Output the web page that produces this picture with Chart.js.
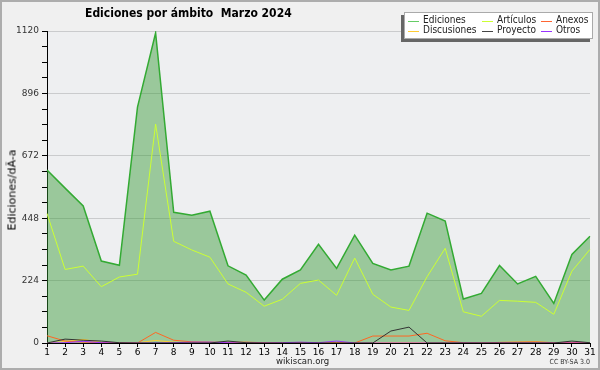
<!DOCTYPE html>
<html>
<head>
<meta charset="utf-8">
<script src="https://cdn.jsdelivr.net/npm/chart.js@4"></script>
<style>
  body { margin: 0; background: #f0f0f0; font-family: "DejaVu Sans Condensed", "DejaVu Sans", sans-serif; }
  #wrap { position: relative; width: 600px; height: 370px; background: #f0f0f0; }
  #frame { position: absolute; left: 0; top: 0; width: 600px; height: 370px; box-sizing: border-box; border: 2px solid #adadad; pointer-events: none; }
  #title { position: absolute; left: 85px; top: 6px; font-size: 12px; font-weight: bold; white-space: pre; color: #000; }
  #ytitle { position: absolute; left: 12px; top: 190px; font-size: 11px; font-weight: normal; white-space: pre; transform: translate(-50%, -50%) rotate(-90deg); color: #000; font-family: "DejaVu Sans"; }
  #legend { position: absolute; left: 404px; top: 12px; width: 187px; height: 25px; background: #fff; border: 1px solid #aaa; box-shadow: -3px 3px 0 #666; font-size: 10px; color: #222; }
  .txt { position: absolute; white-space: pre; line-height: 10px; }
  .sw { position: absolute; width: 11px; height: 1px; }
  #site { position: absolute; left: 276px; top: 355px; font-size: 9.5px; color: #222; }
  #cc { position: absolute; right: 10px; top: 358px; font-size: 7px; color: #333; }
</style>
</head>
<body>
<div id="wrap">
  <canvas id="chart" width="600" height="370"></canvas>
  <div id="title">Ediciones por ámbito  Marzo 2024</div>
  <div id="ytitle">Ediciones/dÃ-a</div>
  <div id="legend"></div>
  <div id="site">wikiscan.org</div>
  <div id="cc">CC BY-SA 3.0</div>
  <div id="frame"></div>
</div>
<script>
// ===== DATOS =====
const dias = ["1", "2", "3", "4", "5", "6", "7", "8", "9", "10", "11", "12", "13", "14", "15", "16",
  "17", "18", "19", "20", "21", "22", "23", "24", "25", "26", "27", "28", "29", "30", "31"];

const ediciones = [621, 556, 492, 294, 279, 847, 1113, 469, 459, 473, 277, 244, 154, 229, 262, 354,
  268, 387, 286, 262, 276, 466, 438, 158, 178, 278, 212, 239, 142, 318, 383];
const articulos = [465, 264, 276, 202, 237, 247, 786, 365, 334, 308, 212, 182, 132, 157, 214, 226,
  171, 305, 175, 129, 117, 238, 340, 112, 96, 153, 150, 146, 103, 258, 336];
const anexos = [26, 7, 3, 2, 1, 0, 38, 10, 4, 3, 2, 3, 1, 1, 1, 0,
  1, 0, 25, 25, 25, 35, 8, 1, 0, 2, 3, 4, 1, 2, 1];
const discusiones = [1, 5, 13, 2, 1, 1, 9, 3, 1, 1, 2, 1, 0, 1, 2, 1,
  1, 0, 1, 2, 2, 1, 1, 0, 1, 2, 3, 4, 1, 1, 1];
const proyecto = [0, 14, 10, 7, 1, 0, 0, 0, 0, 0, 7, 1, 0, 0, 0, 0,
  0, 0, 0, 43, 57, 0, 0, 0, 0, 0, 0, 0, 0, 7, 1];
const otros = [0, 1, 6, 1, 0, 0, 0, 1, 3, 3, 1, 0, 0, 1, 3, 1,
  7, 0, 0, 0, 0, 0, 0, 0, 0, 0, 0, 0, 0, 0, 0];

const yMax = 1120;
const yStep = 56;
const yLabelStep = 224;

// legend, 3 columns like the original
const legendItems = [
  { label: "Ediciones", color: "#66cc66", col: 0, row: 0 },
  { label: "Artículos", color: "#ccff33", col: 1, row: 0 },
  { label: "Anexos", color: "#ff6633", col: 2, row: 0 },
  { label: "Discusiones", color: "#ffcc33", col: 0, row: 1 },
  { label: "Proyecto", color: "#444444", col: 1, row: 1 },
  { label: "Otros", color: "#9933ff", col: 2, row: 1 },
];
const colX = [3, 77, 136];
const legend = document.getElementById("legend");
legendItems.forEach((item) => {
  const x = colX[item.col];
  const y = 2 + item.row * 10;
  const sw = document.createElement("div");
  sw.className = "sw";
  sw.style.left = x + "px";
  sw.style.top = y + 6 + "px";
  sw.style.background = item.color;
  legend.appendChild(sw);
  const t = document.createElement("div");
  t.className = "txt";
  t.style.left = x + 15 + "px";
  t.style.top = y + "px";
  t.textContent = item.label;
  legend.appendChild(t);
});

const plotBg = {
  id: "plotBg",
  beforeDraw(chart) {
    const { ctx, chartArea: a } = chart;
    ctx.save();
    ctx.fillStyle = "#eeeff1";
    ctx.fillRect(a.left, a.top, a.right - a.left, a.bottom - a.top);
    ctx.restore();
  },
};

function line(data, color, order) {
  return {
    data: data,
    borderColor: color,
    borderWidth: 1,
    pointRadius: 0,
    tension: 0,
    fill: false,
    order: order,
  };
}

new Chart(document.getElementById("chart"), {
  type: "line",
  data: {
    labels: dias,
    datasets: [
      {
        data: ediciones,
        borderColor: "#33aa33",
        backgroundColor: "rgba(51, 153, 51, 0.45)",
        borderWidth: 1.5,
        pointRadius: 0,
        tension: 0,
        fill: "origin",
        order: 10,
      },
      line(articulos, "#ccff33", 6),
      line(discusiones, "#ffcc33", 5),
      line(anexos, "#ff6622", 4),
      line(otros, "#9933ff", 3),
      line(proyecto, "#333333", 2),
    ],
  },
  options: {
    responsive: false,
    animation: false,
    layout: { padding: { left: 0, right: 10, top: 31, bottom: 0 } },
    plugins: {
      legend: { display: false },
      title: { display: false },
      tooltip: { enabled: false },
    },
    scales: {
      x: {
        offset: false,
        afterFit: (scale) => { scale.height = 27; },
        grid: { drawOnChartArea: false, tickLength: 4, tickColor: "#000" },
        border: { color: "#000", width: 1 },
        ticks: {
          color: "#000",
          font: { family: "DejaVu Sans", size: 9 },
          padding: 0,
          maxRotation: 0,
          autoSkip: false,
        },
      },
      y: {
        min: 0,
        max: yMax,
        afterFit: (scale) => { scale.width = 47; },
        grid: {
          color: (c) => (c.tick && c.tick.value % yLabelStep === 0 && c.tick.value > 0 ? "rgba(0,0,0,0.15)" : "transparent"),
          tickColor: "#000",
          tickLength: 5,
        },
        border: { color: "#000", width: 1 },
        ticks: {
          stepSize: yStep,
          color: "#333",
          font: { family: "DejaVu Sans", size: 9 },
          padding: 3,
          callback: (v) => (v % yLabelStep === 0 ? v : ""),
        },
      },
    },
  },
  plugins: [plotBg],
});
</script>
</body>
</html>
